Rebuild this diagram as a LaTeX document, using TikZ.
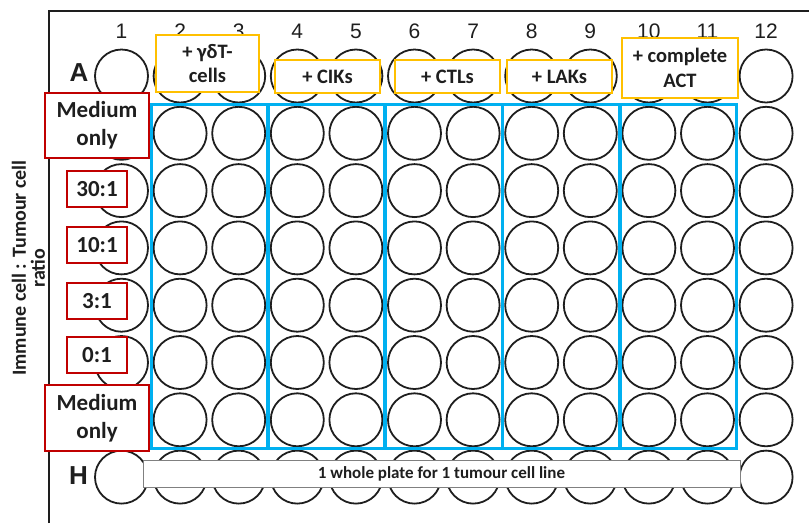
\documentclass[tikz,border=0pt]{standalone}
\usepackage{fontspec}
\setmainfont{Carlito}
\newfontfamily\arialfont{Liberation Sans}
\usetikzlibrary{fit}
\definecolor{plateblue}{RGB}{0,176,240}
\definecolor{boxyellow}{RGB}{255,192,0}
\definecolor{boxred}{RGB}{192,0,0}
\definecolor{ink}{RGB}{30,30,30}
\tikzset{
  well/.style={circle, draw=ink, line width=1.8pt, minimum size=53pt, inner sep=0pt},
  groupbox/.style={draw=plateblue, line width=3pt, inner sep=1.5pt, rectangle},
  yellowbox/.style={draw=boxyellow, fill=white, line width=2.2pt, align=center, inner sep=0pt,
    font=\fontsize{20.5}{24.5}\selectfont\bfseries, text=ink},
  redbox/.style={draw=boxred, fill=white, line width=2.2pt, align=center, inner sep=0pt,
    font=\fontsize{23}{28}\selectfont\bfseries, text=ink},
  graybox/.style={draw=gray, fill=white, line width=1pt, inner sep=0pt,
    font=\fontsize{17}{20}\selectfont\bfseries, text=ink},
  colnum/.style={font=\arialfont\fontsize{21}{22}\selectfont, text=ink},
  rowlab/.style={font=\arialfont\fontsize{26}{26}\selectfont\bfseries, text=ink},
}
\begin{document}
\begin{tikzpicture}[x=1pt,y=-1pt]
\useasboundingbox (0,0) rectangle (809,523);
% plate border
\draw[ink, line width=1.6pt] (49,523) -- (49,11) -- (809,11);
% wells
\foreach \r [count=\ri from 0] in {A,B,C,D,E,F,G,H}{
  \foreach \c in {1,...,12}{
    \node[well] (w-\r-\c) at ({121.5+(\c-1)*58.6},{76+\ri*57.3}) {};
  }
}
% column numbers
\foreach \c in {1,...,12}{
  \node[colnum] (n-\c) at ({121.5+(\c-1)*58.6},31) {\c};
}
\node[rowlab] (lab-A) at (79,73) {A};
\node[rowlab] (lab-H) at (78.5,476) {H};
% blue groups
\node[groupbox, fit=(w-B-2)(w-G-3)] (g1) {};
\node[groupbox, fit=(w-B-4)(w-G-5)] (g2) {};
\node[groupbox, fit=(w-B-6)(w-G-7)] (g3) {};
\node[groupbox, fit=(w-B-8)(w-G-9)] (g4) {};
\node[groupbox, fit=(w-B-10)(w-G-11)] (g5) {};
% yellow boxes
\node[yellowbox, minimum width=103pt, minimum height=57pt] (y1) at (207.5,63.5) {+ γδT-\\cells};
\node[yellowbox, minimum width=105pt, minimum height=33pt] (y2) at (327.5,76.5) {+ CIKs};
\node[yellowbox, minimum width=105pt, minimum height=33pt] (y3) at (447.5,76.5) {+ CTLs};
\node[yellowbox, minimum width=105pt, minimum height=33pt] (y4) at (559.5,76.5) {+ LAKs};
\node[yellowbox, minimum width=116pt, minimum height=60pt] (y5) at (680,68) {+ complete\\ACT};
% red boxes
\node[redbox, minimum width=104pt, minimum height=65pt] (m1) at (97,125.5) {Medium\\only};
\node[redbox, minimum width=60pt, minimum height=36pt] (r1) at (97,189) {30:1};
\node[redbox, minimum width=60pt, minimum height=36pt] (r2) at (97,245) {10:1};
\node[redbox, minimum width=60pt, minimum height=36pt] (r3) at (97,301) {3:1};
\node[redbox, minimum width=60pt, minimum height=36pt] (r4) at (97,355) {0:1};
\node[redbox, minimum width=104pt, minimum height=66pt] (m2) at (97,418) {Medium\\only};
% gray bar
\node[graybox, minimum width=597pt, minimum height=27pt] (bar) at (441.5,473.5) {1 whole plate for 1 tumour cell line};
% axis label
\node[rotate=90, align=center, font=\fontsize{20}{19}\selectfont\bfseries, text=ink] (axis) at (28.5,268) {Immune cell : Tumour cell\\ratio};
\end{tikzpicture}
\end{document}
